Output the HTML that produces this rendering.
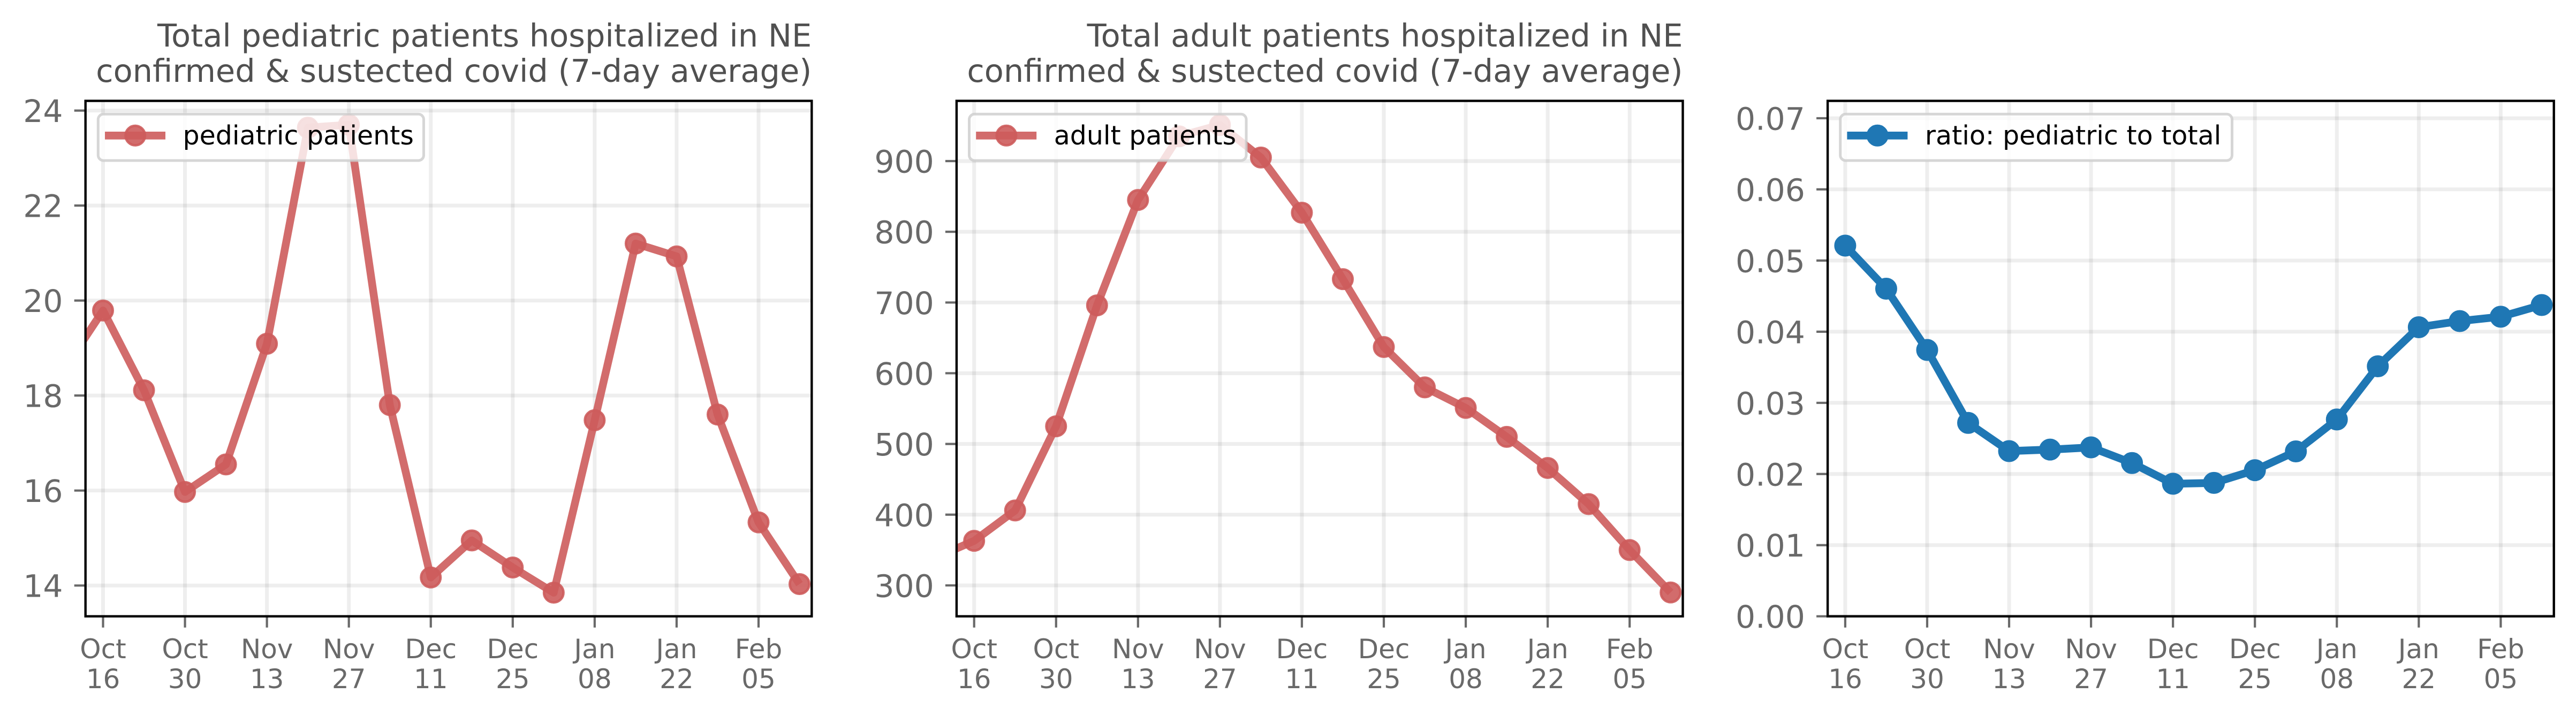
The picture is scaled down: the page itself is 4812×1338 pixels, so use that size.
<!DOCTYPE html>
<html lang="en">
<head>
<meta charset="utf-8">
<title>Pediatric and adult covid patients hospitalized in NE</title>
<style>
html,body{margin:0;padding:0;background:#fff;}
body{width:4812px;height:1338px;overflow:hidden;}
svg{display:block;font-family:"DejaVu Sans","Liberation Sans",sans-serif;}
.title{font-size:59px;fill:#505050;text-anchor:end;}
.legend-text{font-size:49px;fill:#000;}
.legend-box{fill:#fff;fill-opacity:.8;stroke:#ccc;stroke-opacity:.8;stroke-width:5;}
.spine{fill:none;stroke:#000;stroke-width:4.4;stroke-linejoin:miter;}
</style>
</head>
<body>
<svg id="figure" width="4812" height="1338" viewBox="0 0 4812 1338" xmlns="http://www.w3.org/2000/svg">
  <defs>
    <clipPath id="clip-1"><rect x="159.7" y="188.5" width="1356.6" height="963.2"/></clipPath>
    <clipPath id="clip-2"><rect x="1786.9" y="188.5" width="1356.6" height="963.2"/></clipPath>
    <clipPath id="clip-3"><rect x="3414.1" y="188.5" width="1356.6" height="963.2"/></clipPath>
  </defs>

  <g>
    <g id="axes-1"></g>
    <rect class="spine" x="159.7" y="188.5" width="1356.6" height="963.2"/>
    <text class="title" x="1516.3" y="87">Total pediatric patients hospitalized in NE</text>
    <text class="title" x="1516.3" y="153">confirmed &amp; sustected covid (7-day average)</text>
    <g>
      <rect class="legend-box" x="183.3" y="213.3" width="608.2" height="86.7" rx="10"/>
      <line x1="196" x2="309" y1="253.3" y2="253.3" stroke="#cd5c5c" stroke-opacity=".9" stroke-width="14.6"/>
      <circle cx="252.7" cy="253.3" r="18.2" fill="#cd5c5c" fill-opacity=".9" stroke="#cd5c5c" stroke-opacity=".9" stroke-width="4.6"/>
      <text class="legend-text" x="341.5" y="270">pediatric patients</text>
    </g>
  </g>

  <g>
    <g id="axes-2"></g>
    <rect class="spine" x="1786.9" y="188.5" width="1356.6" height="963.2"/>
    <text class="title" x="3143.5" y="87">Total adult patients hospitalized in NE</text>
    <text class="title" x="3143.5" y="153">confirmed &amp; sustected covid (7-day average)</text>
    <g>
      <rect class="legend-box" x="1810.5" y="213.3" width="517.5" height="86.7" rx="10"/>
      <line x1="1823.2" x2="1936.2" y1="253.3" y2="253.3" stroke="#cd5c5c" stroke-opacity=".9" stroke-width="14.6"/>
      <circle cx="1879.9" cy="253.3" r="18.2" fill="#cd5c5c" fill-opacity=".9" stroke="#cd5c5c" stroke-opacity=".9" stroke-width="4.6"/>
      <text class="legend-text" x="1968.7" y="270">adult patients</text>
    </g>
  </g>

  <g>
    <g id="axes-3"></g>
    <rect class="spine" x="3414.1" y="188.5" width="1356.6" height="963.2"/>
    <g>
      <rect class="legend-box" x="3437.7" y="213.3" width="731.8" height="86.7" rx="10"/>
      <line x1="3450.4" x2="3563.4" y1="253.3" y2="253.3" stroke="#1f77b4" stroke-width="14.6"/>
      <circle cx="3507.1" cy="253.3" r="18.2" fill="#1f77b4" stroke="#1f77b4" stroke-width="4.6"/>
      <text class="legend-text" x="3595.9" y="270">ratio: pediatric to total</text>
    </g>
  </g>
</svg>

<script>
const weeks = ['Oct 09','Oct 16','Oct 23','Oct 30','Nov 06','Nov 13','Nov 20','Nov 27','Dec 04','Dec 11','Dec 18','Dec 25','Jan 01','Jan 08','Jan 15','Jan 22','Jan 29','Feb 05','Feb 12'];
const xTickDates = ['Oct 16','Oct 30','Nov 13','Nov 27','Dec 11','Dec 25','Jan 08','Jan 22','Feb 05'];

const pediatricPatients = [18.49,19.79,18.11,15.97,16.55,19.09,23.64,23.7,17.8,14.17,14.95,14.38,13.85,17.48,21.2,20.93,17.6,15.33,14.03];
const pediatricYTicks = [14,16,18,20,22,24];
const pediatricYLimits = [13.352,24.204];

const adultPatients = [338,363,406,525,696,845,935,951,905,827,733,637,580,551,510,466,415,350,290];
const adultYTicks = [300,400,500,600,700,800,900];
const adultYLimits = [256.3,985.1];

const ratioPediatricToTotal = [null,0.0521,0.04604,0.03743,0.02718,0.02322,0.02343,0.02374,0.02154,0.01863,0.01875,0.02054,0.02318,0.02766,0.03514,0.04063,0.04149,0.0421,0.04375];
const ratioYTicks = [0,0.01,0.02,0.03,0.04,0.05,0.06,0.07];
const ratioYTickLabels = ['0.00','0.01','0.02','0.03','0.04','0.05','0.06','0.07'];
const ratioYLimits = [0,0.07244];

const SVG_NS = 'http://www.w3.org/2000/svg';
const PLOT_TOP = 188.5;
const PLOT_BOTTOM = 1151.7;
const PLOT_WIDTH = 1356.6;
const WEEK_PX = 76.53;
const FIRST_TICK_OFFSET = 32.8;

function make(tag, parent, attrs) {
  const el = document.createElementNS(SVG_NS, tag);
  for (const k in attrs) el.setAttribute(k, attrs[k]);
  parent.appendChild(el);
  return el;
}

function drawPanel(prefix, index, left, values, yTicks, yLabels, yLimits, color, alpha) {
  const root = document.getElementById('axes-' + index);
  const xOf = function (i) { return left + FIRST_TICK_OFFSET + (i - 1) * WEEK_PX; };
  const yOf = function (v) {
    return PLOT_BOTTOM - (v - yLimits[0]) / (yLimits[1] - yLimits[0]) * (PLOT_BOTTOM - PLOT_TOP);
  };
  const clip = make('g', root, { 'clip-path': 'url(#clip-' + index + ')' });

  yTicks.forEach(function (tick, i) {
    const y = yOf(tick);
    const grid = make('line', clip, { x1: left, x2: left + PLOT_WIDTH, y1: y, y2: y, stroke: '#000', 'stroke-opacity': .067, 'stroke-width': 7 });
    
    
    const mark = make('line', root, { x1: left - 21, x2: left, y1: y, y2: y, stroke: '#696969', 'stroke-width': 4.2 });
    
    
    const label = make('text', root, { x: left - 42.2, y: y + 21.5, 'text-anchor': 'end', 'font-size': 58.33, fill: '#696969' });
    
    
    label.textContent = yLabels ? yLabels[i] : String(tick);
  });

  xTickDates.forEach(function (date) {
    const x = xOf(weeks.indexOf(date));
    const parts = date.split(' ');
    const grid = make('line', clip, { x1: x, x2: x, y1: PLOT_TOP, y2: PLOT_BOTTOM, stroke: '#000', 'stroke-opacity': .067, 'stroke-width': 7 });
    
    
    const mark = make('line', root, { x1: x, x2: x, y1: PLOT_BOTTOM, y2: PLOT_BOTTOM + 21, stroke: '#696969', 'stroke-width': 4.2 });
    
    
    const month = make('text', root, { x: x, y: 1230, 'text-anchor': 'middle', 'font-size': 50, fill: '#696969' });
    
    
    month.textContent = parts[0];
    const day = make('text', root, { x: x, y: 1286, 'text-anchor': 'middle', 'font-size': 50, fill: '#696969' });
    
    
    day.textContent = parts[1];
  });

  const pts = [];
  values.forEach(function (v, i) {
    if (v !== null) pts.push([xOf(i), yOf(v)]);
  });
  const line = make('polyline', clip, {
    points: pts.map(function (p) { return p[0].toFixed(2) + ',' + p[1].toFixed(2); }).join(' '),
    fill: 'none', stroke: color, 'stroke-opacity': alpha, 'stroke-width': 14.6, 'stroke-linejoin': 'round'
  });
  
  

  pts.forEach(function (p) {
    const dot = make('circle', clip, {
      cx: p[0], cy: p[1], r: 18.2, fill: color, 'fill-opacity': alpha,
      stroke: color, 'stroke-opacity': alpha, 'stroke-width': 4.6
    });
    
    
  });
}

drawPanel('pediatric', 1, 159.7, pediatricPatients, pediatricYTicks, null, pediatricYLimits, '#cd5c5c', .9);
drawPanel('adult', 2, 1786.9, adultPatients, adultYTicks, null, adultYLimits, '#cd5c5c', .9);
drawPanel('ratio', 3, 3414.1, ratioPediatricToTotal, ratioYTicks, ratioYTickLabels, ratioYLimits, '#1f77b4', 1);
</script>
</body>
</html>
